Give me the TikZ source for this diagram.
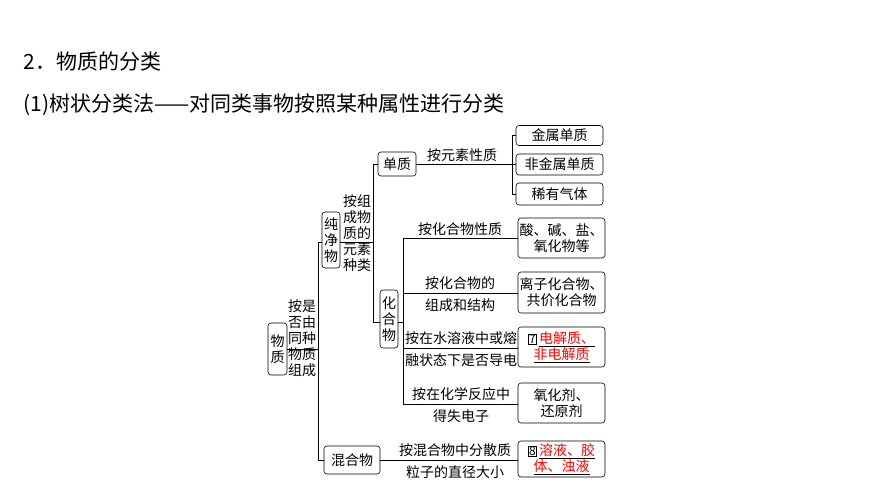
\documentclass[tikz,border=0pt]{standalone}
\usepackage{fontspec}
\setmainfont{Liberation Serif}
\newfontfamily\cjk{Noto Sans CJK SC}
\begin{document}
\begin{tikzpicture}[x=1pt,y=-1pt,
  bx/.style={draw,rounded corners=3pt,line width=0.6pt,align=center,inner sep=1pt},
  t/.style={font=\cjk\fontsize{14}{16}\selectfont,align=center,inner sep=0pt},
  ln/.style={line width=0.6pt}]
\useasboundingbox (0,0) rectangle (870,489);
\node[anchor=west,font=\cjk\fontsize{21}{23}\selectfont] (h1) at (20,62) {2．物质的分类};
\node[anchor=west,font=\cjk\fontsize{21}{23}\selectfont] (h2) at (20,105) {(1)树状分类法——对同类事物按照某种属性进行分类};
\newcommand\numbox[1]{{\fboxsep=0.5pt\fboxrule=0.5pt\fbox{\cjk\fontsize{12}{12}\selectfont #1}}}
% boxes
\node[bx,t,minimum width=19pt,minimum height=52pt] (wz) at (277.5,349) {物\\质};
\node[t] (l1) at (302,338) {按是\\否由\\同种\\物质\\组成};
\node[bx,t,minimum width=18pt,minimum height=56pt] (cj) at (331,240) {纯\\净\\物};
\node[t] (l2) at (357,233) {按组\\成物\\质的\\元素\\种类};
\node[bx,t,minimum width=38pt,minimum height=24pt] (dz) at (397,164) {单质};
\node[t] (l3) at (462,155) {按元素性质};
\node[bx,t,minimum width=87pt,minimum height=20pt] (r1) at (559.5,135.5) {金属单质};
\node[bx,t,minimum width=87pt,minimum height=21pt] (r2) at (559.5,164.5) {非金属单质};
\node[bx,t,minimum width=87pt,minimum height=22pt] (r3) at (559.5,194) {稀有气体};
\node[bx,t,minimum width=18pt,minimum height=58pt] (hh) at (389,319) {化\\合\\物};
\node[t] (m1) at (460,229) {按化合物性质};
\node[t] (m2) at (460,294) {按化合物的\\[6pt]组成和结构};
\node[t] (m3) at (461,349) {按在水溶液中或熔\\[6pt]融状态下是否导电};
\node[t] (m4) at (461,405) {按在化学反应中\\[6pt]得失电子};
\node[bx,t,minimum width=87pt,minimum height=40pt] (s1) at (561.5,238) {酸、碱、盐、\\氧化物等};
\node[bx,t,minimum width=87pt,minimum height=41pt] (s2) at (561.5,292.5) {离子化合物、\\共价化合物};
\node[bx,t,minimum width=87pt,minimum height=40pt] (s3) at (561.5,347) {\numbox{7}\,\underline{\textcolor{red}{电解质、}}\\\underline{\textcolor{red}{非电解质}}};
\node[bx,t,minimum width=87pt,minimum height=40pt] (s4) at (561.5,403) {氧化剂、\\还原剂};
\node[bx,t,minimum width=56pt,minimum height=28pt] (hw) at (352,460) {混合物};
\node[t] (m5) at (455,461) {按混合物中分散质\\[6pt]粒子的直径大小};
\node[bx,t,minimum width=87pt,minimum height=36pt] (s5) at (561.5,459) {\numbox{8}\,\underline{\textcolor{red}{溶液、胶}}\\\underline{\textcolor{red}{体、浊液}}};
% junction coordinates
\coordinate (j1t) at (318,242); \coordinate (j1b) at (318,460);
\coordinate (j2t) at (373,164); \coordinate (j2b) at (373,322);
\coordinate (j3t) at (512,135.5); \coordinate (j3b) at (512,194);
\coordinate (j4t) at (403,238); \coordinate (j4b) at (403,404);
\draw[ln] (wz.east|-0,349) -- (318,349);
\draw[ln] (j1t) -- (j1b);
\draw[ln] (j1t) -- (cj.west|-j1t);
\draw[ln] (j1b) -- (hw.west|-j1b);
\draw[ln] (cj.east|-j1t) -- (373,242);
\draw[ln] (j2t) -- (j2b);
\draw[ln] (j2t) -- (dz.west|-j2t);
\draw[ln] (j2b) -- (hh.west|-j2b);
\draw[ln] (dz.east) -- (512,164);
\draw[ln] (j3t) -- (j3b);
\draw[ln] (j3t) -- (r1.west);
\draw[ln] (512,164.5) -- (r2.west);
\draw[ln] (j3b) -- (r3.west);
\draw[ln] (hh.east|-0,322) -- (403,322);
\draw[ln] (j4t) -- (j4b);
\draw[ln] (j4t) -- (s1.west);
\draw[ln] (403,293) -- (s2.west|-0,293);
\draw[ln] (403,348) -- (s3.west|-0,348);
\draw[ln] (j4b) -- (s4.west|-j4b);
\draw[ln] (hw.east) -- (s5.west|-hw.east);
\end{tikzpicture}
\end{document}
